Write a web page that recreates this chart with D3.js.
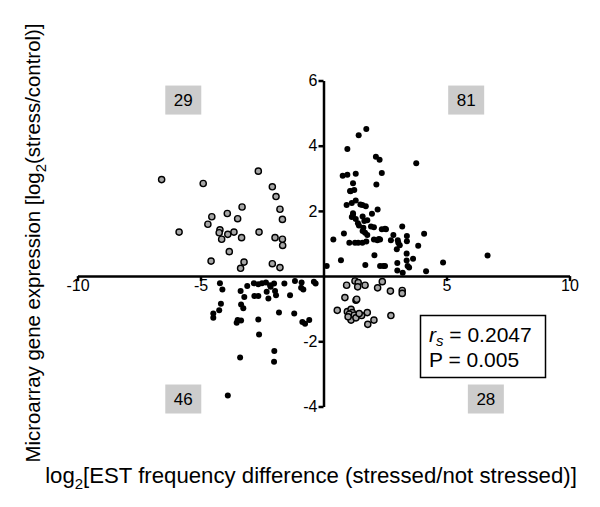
<!DOCTYPE html>
<html>
<head>
<meta charset="utf-8">
<script src="https://cdnjs.cloudflare.com/ajax/libs/d3/7.8.5/d3.min.js"></script>
<style>
  body { margin: 0; background: #fff; }
  svg text { font-family: "Liberation Sans", Arial, sans-serif; fill: #000; }
</style>
</head>
<body>
<div id="chart"></div>
<script>
// axis ticks
var xTicks = [-10, -5, 5, 10];
var yTicks = [-4, -2, 2, 4, 6];

// quadrant counts
var quadLabels = [
	{ key: "UL", text: "29" },
	{ key: "UR", text: "81" },
	{ key: "LL", text: "46" },
	{ key: "LR", text: "28" },
];

// upper left (grey, open)
var ulX = [-6.58, -4.89, -2.65, -2.08, -1.93, -3.31, -1.77, -4.54, -3.91, -3.49, -1.67, -4.70, -5.87, -4.21, -4.24, -3.89, -3.64, -4.14, -3.33, -2.62, -1.97, -1.67, -1.66, -3.83, -4.57, -3.23, -3.37, -2.08, -1.77];
var ulY = [2.96, 2.84, 3.22, 2.74, 2.44, 2.12, 2.05, 1.82, 1.92, 1.76, 1.74, 1.59, 1.35, 1.42, 1.33, 1.28, 1.35, 1.13, 1.18, 1.35, 1.18, 1.13, 0.94, 0.75, 0.46, 0.43, 0.24, 0.38, 0.26];

// lower right (grey, open)
var lrX = [0.94, 1.28, 1.41, 1.39, 1.69, 2.20, 2.39, 2.72, 3.20, 3.20, 0.87, 1.32, 0.56, 0.97, 1.12, 1.17, 1.05, 1.25, 1.12, 1.32, 1.55, 1.78, 1.80, 2.05, 2.74, 1.35, 1.00, 1.45];
var lrY = [-0.28, -0.15, -0.20, -0.33, -0.28, -0.36, -0.17, -0.46, -0.44, -0.53, -0.66, -0.74, -1.05, -1.09, -1.02, -1.12, -1.17, -1.20, -1.35, -1.28, -1.21, -1.12, -1.48, -1.35, -1.21, -0.71, -1.25, -1.15];

// lower left (black)
var llX = [-4.21, -2.83, -2.65, -2.34, -2.17, -2.01, -1.59, -1.16, -0.89, -0.39, -0.32, -4.11, -3.37, -2.31, -2.15, -1.97, -0.91, -0.82, -3.22, -2.81, -2.65, -2.24, -1.93, -1.36, -4.17, -4.24, -3.35, -3.26, -4.48, -4.48, -1.81, -1.19, -2.65, -3.49, -3.35, -3.53, -0.86, -0.75, -0.58, -2.62, -2.00, -3.39, -2.01, -3.89, -2.50, -3.10];
var llY = [-0.22, -0.22, -0.25, -0.20, -0.28, -0.23, -0.23, -0.15, -0.20, -0.17, -0.23, -0.41, -0.46, -0.48, -0.33, -0.46, -0.36, -0.41, -0.64, -0.61, -0.61, -0.69, -0.59, -0.59, -0.85, -1.05, -0.87, -0.99, -1.15, -1.28, -1.12, -1.15, -1.33, -1.35, -1.36, -1.43, -1.41, -1.46, -1.35, -1.79, -2.30, -2.50, -2.63, -3.66, -0.22, -0.30];

// upper right (black)
var urX = [1.74, 1.43, 0.97, 2.13, 2.28, 3.77, 2.37, 0.78, 0.97, 1.31, 2.15, 1.20, 1.08, 1.25, 1.31, 0.94, 1.15, 1.58, 1.72, 2.20, 1.20, 1.97, 1.15, 1.31, 1.59, 1.66, 1.78, 3.20, 1.44, 1.93, 2.05, 2.37, 2.54, 0.83, 1.59, 1.69, 1.78, 2.84, 3.39, 4.09, 0.40, 1.28, 1.41, 1.58, 1.74, 2.05, 2.19, 2.30, 2.74, 3.02, 3.04, 3.39, 3.85, 2.98, 2.07, 3.38, 3.64, 0.71, 1.70, 2.30, 2.43, 3.00, 3.38, 3.42, 3.48, 0.13, 3.00, 3.22, 4.17, 4.86, 6.67, 2.50, 2.50, 1.10, 1.20, 1.50, 1.05, 1.40, 2.25, 3.10, 1.62];
var urY = [4.51, 4.32, 3.90, 3.66, 3.57, 3.46, 3.16, 3.08, 3.11, 3.14, 2.81, 2.85, 2.61, 2.64, 2.32, 2.18, 2.24, 2.18, 2.14, 2.04, 1.93, 1.91, 1.81, 1.75, 1.83, 1.69, 1.71, 1.52, 1.55, 1.52, 1.50, 1.44, 1.44, 1.31, 1.38, 1.33, 1.26, 1.26, 1.23, 1.30, 1.12, 1.02, 1.02, 1.02, 1.06, 1.12, 1.10, 1.12, 1.10, 1.10, 1.02, 1.07, 0.93, 0.82, 0.64, 0.69, 0.53, 0.49, 0.34, 0.31, 0.31, 0.40, 0.48, 0.31, 0.26, 0.31, 0.17, 0.10, 0.15, 0.42, 0.63, 1.45, 0.31, 2.60, 1.88, 2.20, 1.02, 1.62, 1.14, 0.95, 1.48];

function zip(xs, ys) {
	return xs.map(function (v, i) { return { x: v, y: ys[i] }; });
}

var width = 600, height = 507;

var svg = d3.select("#chart").append("svg")
	.attr("width", width)
	.attr("height", height);

var x = d3.scaleLinear().domain([-10, 10]).range([77.5, 569.5]);
var y = d3.scaleLinear().domain([-4, 6]).range([406.5, 80.5]);

var plain = function (d) { return String(d); }; // keep ascii hyphen for negatives

// x axis through y = 0
var gx = svg.append("g")
	.attr("transform", "translate(0," + y(0) + ")")
	.call(d3.axisBottom(x).tickValues(xTicks).tickFormat(plain).tickSize(5).tickSizeOuter(0).tickPadding(-1));
gx.select(".domain").attr("stroke-width", 2.5);
gx.selectAll(".tick line").attr("stroke-width", 2.5);
gx.selectAll(".tick text").style("font-size", "16px");

// y axis through x = 0
var gy = svg.append("g")
	.attr("transform", "translate(" + x(0) + ",0)")
	.call(d3.axisLeft(y).tickValues(yTicks).tickFormat(plain).tickSize(5).tickSizeOuter(0).tickPadding(1));
gy.select(".domain").attr("stroke-width", 2.5);
gy.selectAll(".tick line").attr("stroke-width", 2.5);
gy.selectAll(".tick text").style("font-size", "16px");

// points
svg.append("g").selectAll("circle")
	.data(zip(llX, llY).concat(zip(urX, urY)))
	.enter().append("circle")
	.attr("cx", function (d) { return x(d.x); })
	.attr("cy", function (d) { return y(d.y); })
	.attr("r", 3)
	.attr("fill", "#000");

svg.append("g").selectAll("circle")
	.data(zip(ulX, ulY).concat(zip(lrX, lrY)))
	.enter().append("circle")
	.attr("cx", function (d) { return x(d.x); })
	.attr("cy", function (d) { return y(d.y); })
	.attr("r", 3.1)
	.attr("fill", "#a6a6a6")
	.attr("stroke", "#000")
	.attr("stroke-width", 1.4);

// grey count boxes
var quadPos = {
	UL: { cx: -5.7, cy: 5.4 },
	UR: { cx: 5.8, cy: 5.4 },
	LL: { cx: -5.7, cy: -3.77 },
	LR: { cx: 6.6, cy: -3.77 },
};
var qb = svg.append("g").selectAll("g")
	.data(quadLabels)
	.enter().append("g")
	.attr("transform", function (d) {
		var p = quadPos[d.key];
		return "translate(" + x(p.cx) + "," + y(p.cy) + ")";
	});
qb.append("rect")
	.attr("x", -18).attr("y", -14.5)
	.attr("width", 36).attr("height", 29)
	.attr("fill", "#cccccc");
qb.append("text")
	.attr("text-anchor", "middle")
	.attr("dy", "0.36em")
	.style("font-size", "17px")
	.text(function (d) { return d.text; });

// stats box
var sb = svg.append("g");
sb.append("rect")
	.attr("x", 420.5).attr("y", 315.5)
	.attr("width", 125).attr("height", 62)
	.attr("fill", "#fff")
	.attr("stroke", "#000")
	.attr("stroke-width", 1.5);
var t1 = sb.append("text")
	.attr("x", 429).attr("y", 342)
	.style("font-size", "21px");
t1.append("tspan").style("font-style", "italic").text("r");
t1.append("tspan").attr("dy", 4).style("font-size", "15px").style("font-style", "italic").text("s");
t1.append("tspan").attr("dy", -4).text(" = 0.2047");
sb.append("text")
	.attr("x", 429).attr("y", 367)
	.style("font-size", "21px")
	.text("P = 0.005");

// axis titles
var xt = svg.append("text")
	.attr("x", 311).attr("y", 483)
	.attr("text-anchor", "middle")
	.style("font-size", "22.2px");
xt.append("tspan").text("log");
xt.append("tspan").attr("dy", 6).style("font-size", "15px").text("2");
xt.append("tspan").attr("dy", -6).text("[EST frequency difference (stressed/not stressed)]");

var yt = svg.append("text")
	.attr("transform", "translate(40,243) rotate(-90)")
	.attr("text-anchor", "middle")
	.style("font-size", "20.4px");
yt.append("tspan").text("Microarray gene expression [log");
yt.append("tspan").attr("dy", 6).style("font-size", "15px").text("2");
yt.append("tspan").attr("dy", -6).text("(stress/control)]");
</script>
</body>
</html>
